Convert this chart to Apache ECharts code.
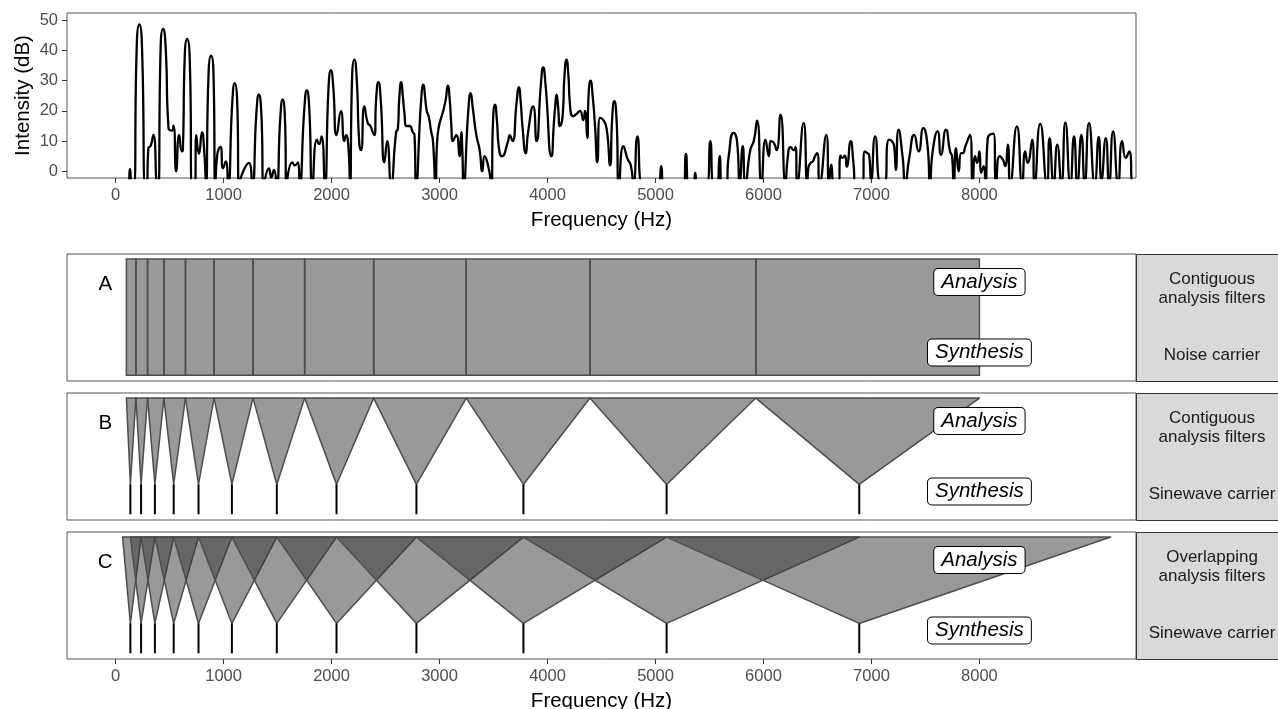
<!DOCTYPE html>
<html>
<head>
<meta charset="utf-8">
<script src="https://cdn.jsdelivr.net/npm/echarts@6/dist/echarts.min.js"></script>
<style>
  html, body { margin: 0; padding: 0; background: #ffffff; }
  #chart { width: 1278px; height: 709px; }
</style>
</head>
<body>
<div id="chart"></div>
<script>
// Spectrum of the input: [frequency (Hz), intensity (dB)]; values below the floor are cut by the panel.
const spectrum = [
  [0,-4],[118,-4],[133,0.8],[150,-4],[168,-4],[198,43.6],[220,48.6],[242,43.6],[275,-4],
  [288,-4],[304,7.7],[326,8.5],[350,12.1],[388,-4],[396,-4],[418,42.1],[440,47.1],[462,42.1],
  [490,14.3],[521,13.5],[536,15.1],[561,0],[589,12.1],[614,6.6],[623,7],[641,38.8],[663,43.8],[685,38.8],[710,-4],
  [735,-4],[747,12],[772,5.8],[800,12.9],[822,6],[837,-4],[862,33.3],[884,38.3],[906,33.3],[924,-4],
  [940,5],[971,8.1],[995,1],[1020,3.3],[1042,-4],[1083,24.2],[1104,29.2],[1125,24.2],[1144,-4],
  [1188,0.5],[1234,2.8],[1265,-4],[1306,20.4],[1327,25.4],[1348,20.4],[1374,-4],
  [1420,1],[1442,-2],[1467,0.5],[1491,-4],[1527,18.7],[1547,23.7],[1567,18.7],[1584,-4],
  [1637,3],[1659,2],[1690,3],[1705,-4],[1750,21.8],[1771,26.8],[1792,21.8],[1823,-4],
  [1864,10.5],[1885,9],[1907,11.6],[1938,-4],[1973,28.4],[1994,33.4],[2015,28.4],[2047,12],[2087,19.9],
  [2118,10],[2133,12],[2158,7],[2171,-4],[2191,32],[2211,37],[2231,32],[2257,9.2],[2273,7],[2304,21.5],
  [2335,16],[2360,15],[2381,13],[2397,12],[2414,24.5],[2434,29.5],[2454,24.5],[2490,3],[2515,10],[2552,-4],
  [2598,13],[2614,14],[2628,24.5],[2645,29.5],[2661,24.5],[2675,19.3],[2693,15],[2721,15],[2752,13],[2768,12],[2783,-4],
  [2830,23.7],[2851,28.7],[2868,24],[2882,20],[2901,18],[2923,13],[2938,10.5],[2963,-4],[2978,10],
  [3056,23.4],[3077,28.4],[3095,23.4],
  [3108,16],[3124,10],[3155,12],[3186,5],[3201,13],[3211,7],[3223,-4],[3268,20.9],[3288,25.9],[3308,20.9],
  [3341,12],[3372,7],[3396,0],[3418,5],[3449,2],[3480,-4],[3496,17.1],[3514,22.1],[3531,17.1],[3548,8.3],[3579,5],
  [3635,10],[3650,12],[3675,10],[3714,22.9],[3734,27.9],[3752,22.9],[3768,15],[3799,6],[3820,13],[3867,21.5],[3898,10],
  [3940,29.4],[3960,34.4],[3980,29.4],[4037,5],[4059,16],[4070,21],[4084,25.4],[4099,21],[4115,15],[4139,18],
  [4158,32],[4176,37],[4193,32],[4207,22.6],
  [4238,18.2],[4269,19],[4300,20],[4331,17],[4347,20],[4368,11],[4380,25],[4399,30],[4418,25],[4440,15],[4461,3],
  [4486,17.7],[4517,17],[4548,14],[4579,2],[4600,18.2],[4619,23.2],[4638,18.2],[4663,-4],[4703,8.3],[4743,4],[4771,2],
  [4796,-4],[4833,11.6],[4876,-4],[5028,-4],[5053,1.7],[5074,-4],[5260,-4],[5282,5.8],[5307,-4],
  [5353,-4],[5368,-0.5],[5384,-4],[5477,-4],[5508,10],[5539,-4],[5570,-4],[5594,5],[5616,-4],
  [5656,-4],[5678,5],[5724,12.7],[5755,10],[5780,-4],[5808,8.3],[5833,-4],[5879,7.2],[5910,10],
  [5941,16.8],[5981,-4],[6019,10.5],[6050,5],[6065,10],[6096,9.4],[6121,7],[6158,18.8],[6204,-4],
  [6226,5],[6251,8],[6282,7],[6297,8],[6313,-4],[6372,16],[6405,-4],[6415,1],[6437,2.8],[6458,3.3],
  [6477,5],[6498,6],[6520,-4],[6582,12.1],[6607,-4],[6628,2.2],[6653,-4],[6693,-4],[6715,5.2],
  [6731,4.5],[6755,5.2],[6771,1.5],[6808,10],[6833,2.8],[6854,-4],[6916,-4],[6938,6.6],[6963,6],
  [6978,5.5],[6997,-3],[7034,11.6],[7087,-4],[7118,-4],[7164,10.5],[7211,8.3],[7226,0.5],[7251,13.8],
  [7288,5],[7313,-4],[7350,4.4],[7396,12.1],[7437,6.6],[7480,14.3],[7520,8.3],[7542,-4],[7567,6.6],
  [7613,13.2],[7644,5.5],[7690,13.8],[7728,6.6],[7746,5],[7762,-4],[7783,7.7],[7808,0],[7830,6],
  [7845,6],[7870,8.3],[7913,12.1],[7938,-4],[7960,5],[7978,2.8],[8000,6.6],[8015,-0.5],[8040,1.7],
  [8056,-4],[8077,11],[8130,12.5],[8155,-4],[8186,5],[8217,3.9],[8238,1.7],[8263,8.8],[8285,-4],
  [8347,14.9],[8396,-4],[8424,6.6],[8446,2.8],[8489,10.5],[8511,-4],[8563,15.8],[8625,-4],
  [8650,11],[8687,-4],[8721,8.8],[8759,-4],[8796,16.2],[8842,-4],[8876,11.6],[8907,-4],
  [8944,12.1],[8975,-4],[9015,16],[9068,-4],[9105,11.4],[9130,-3],[9170,11],[9201,-4],
  [9238,13.2],[9285,-4],[9322,10],[9356,4.4],[9387,6.6],[9424,-4],[9450,-4]
];

const freqTicks = [0, 1000, 2000, 3000, 4000, 5000, 6000, 7000, 8000];
const dbTicks = [0, 10, 20, 30, 40, 50];

// Contiguous analysis band edges (Hz)
const bandEdges = [100, 188, 296, 447, 647, 912, 1273, 1751, 2390, 3247, 4393, 5929, 8000];
// Channel centre / sinewave carrier frequencies (Hz)
const carrierFreqs = [137, 236, 364, 538, 768, 1077, 1493, 2046, 2786, 3777, 5103, 6887];
// Outer limits of the overlapping filters: filter i runs from overlapEdges[i] to overlapEdges[i + 2]
const overlapEdges = [65, 137, 236, 364, 538, 768, 1077, 1493, 2046, 2786, 3777, 5103, 6887, 9215];

const panelLetters = ['A', 'B', 'C'];
const stripTitles = ['Contiguous\nanalysis filters', 'Contiguous\nanalysis filters', 'Overlapping\nanalysis filters'];
const carrierTitles = ['Noise carrier', 'Sinewave carrier', 'Sinewave carrier'];
const stageLabels = ['Analysis', 'Synthesis'];

// ---- layout ----
const FONT = 'Liberation Sans, Arial, Helvetica, sans-serif';
const LEFT = 67, PLOT_W = 1069;
const X_MIN = -450, X_MAX = 9450;
const STRIP_W = 152;
const PANEL_TOPS = [254, 393, 532];
const PANEL_H = 127;
const Y_TOP = 0.96, Y_APEX = 0.28, Y_BOT = 0.045;
const FILL = 'rgba(51,51,51,0.5)';
const EDGE = '#4d4d4d';

const chart = echarts.init(document.getElementById('chart'), null, { renderer: 'canvas' });

const plainNumber = v => String(v);

function freqAxis(gridIndex, withLabels, name) {
  return {
    type: 'value', gridIndex, min: X_MIN, max: X_MAX,
    axisLine: { show: false, onZero: false },
    splitLine: { show: false },
    axisTick: { show: withLabels, customValues: freqTicks, length: 5, lineStyle: { color: '#333', width: 1 } },
    axisLabel: { show: withLabels, customValues: freqTicks, formatter: plainNumber, margin: 9,
      color: '#4d4d4d', fontSize: 16.5, fontFamily: FONT },
    name: name || '', nameLocation: 'middle', nameGap: 32,
    nameTextStyle: { color: '#000', fontSize: 20.5, fontFamily: FONT }
  };
}

const gridBase = { left: LEFT, width: PLOT_W, show: true, borderColor: '#555', borderWidth: 1,
  containLabel: false, outerBoundsMode: 'none' };
const grids = [Object.assign({ top: 13, height: 165 }, gridBase)];
PANEL_TOPS.forEach(t => grids.push(Object.assign({ top: t, height: PANEL_H }, gridBase)));

const xAxes = [freqAxis(0, true, 'Frequency (Hz)'), freqAxis(1, false), freqAxis(2, false), freqAxis(3, true, 'Frequency (Hz)')];
const yAxes = [{
  type: 'value', gridIndex: 0, min: -2.2, max: 52.4,
  axisLine: { show: false, onZero: false },
  splitLine: { show: false },
  axisTick: { show: true, customValues: dbTicks, length: 5, lineStyle: { color: '#333', width: 1 } },
  axisLabel: { customValues: dbTicks, formatter: plainNumber, margin: 9, color: '#4d4d4d', fontSize: 16.5, fontFamily: FONT },
  name: 'Intensity (dB)', nameLocation: 'middle', nameGap: 33, nameMoveOverlap: false,
  nameTextStyle: { color: '#000', fontSize: 20.5, fontFamily: FONT }
}];
for (let g = 1; g <= 3; g++) {
  yAxes.push({ type: 'value', gridIndex: g, min: 0, max: 1, show: false, axisLine: { onZero: false } });
}

const series = [];

// intensity spectrum
series.push({
  type: 'line', xAxisIndex: 0, yAxisIndex: 0, data: spectrum,
  showSymbol: false, smooth: 0.6, clip: true, silent: true,
  lineStyle: { color: '#000', width: 2.3 }
});

// Panel A: contiguous rectangular bands
const rectBands = bandEdges.slice(0, -1).map((lo, i) => [lo, bandEdges[i + 1]]);
series.push({
  type: 'custom', xAxisIndex: 1, yAxisIndex: 1, data: rectBands, clip: true, silent: true,
  renderItem(params, api) {
    const p0 = api.coord([api.value(0), Y_TOP]);
    const p1 = api.coord([api.value(1), Y_BOT]);
    return { type: 'rect', shape: { x: p0[0], y: p0[1], width: p1[0] - p0[0], height: p1[1] - p0[1] },
      style: { fill: FILL, stroke: EDGE, lineWidth: 1.5 } };
  }
});

// triangular filters: [low, centre, high]
function triangleSeries(gridIndex, tris) {
  return {
    type: 'custom', xAxisIndex: gridIndex, yAxisIndex: gridIndex, data: tris, clip: true, silent: true,
    renderItem(params, api) {
      const a = api.coord([api.value(0), Y_TOP]);
      const b = api.coord([api.value(2), Y_TOP]);
      const c = api.coord([api.value(1), Y_APEX]);
      return { type: 'polygon', shape: { points: [a, b, c] },
        style: { fill: FILL, stroke: EDGE, lineWidth: 1.5, lineJoin: 'round' } };
    }
  };
}
function carrierSeries(gridIndex) {
  return {
    type: 'custom', xAxisIndex: gridIndex, yAxisIndex: gridIndex, data: carrierFreqs.map(f => [f]), silent: true,
    renderItem(params, api) {
      const a = api.coord([api.value(0), Y_APEX]);
      const b = api.coord([api.value(0), Y_BOT]);
      return { type: 'line', shape: { x1: a[0], y1: a[1], x2: b[0], y2: b[1] },
        style: { stroke: '#000', lineWidth: 2 } };
    }
  };
}

const contiguousTris = carrierFreqs.map((c, i) => [bandEdges[i], c, bandEdges[i + 1]]);
const overlapTris = carrierFreqs.map((c, i) => [overlapEdges[i], c, overlapEdges[i + 2]]);
series.push(triangleSeries(2, contiguousTris), carrierSeries(2));
series.push(triangleSeries(3, overlapTris), carrierSeries(3));

// panel letters and Analysis / Synthesis tags
for (let g = 1; g <= 3; g++) {
  series.push({
    type: 'custom', xAxisIndex: g, yAxisIndex: g, silent: true, clip: false,
    data: [[-96, 0.76, panelLetters[g - 1], 0], [8000, 0.78, stageLabels[0], 1], [8000, 0.225, stageLabels[1], 1]],
    renderItem(params, api) {
      const p = api.coord([api.value(0), api.value(1)]);
      const txt = api.value(2);
      const isTag = api.value(3) === 1;
      const style = { text: txt, x: p[0], y: p[1], align: 'center', verticalAlign: 'middle',
        fontFamily: FONT, fontSize: 20.5, fill: '#000' };
      if (isTag) {
        Object.assign(style, { fontStyle: 'italic', backgroundColor: '#fff', borderColor: '#000',
          borderWidth: 1, borderRadius: 4, padding: [3, 7, 3, 7] });
      }
      return { type: 'text', style };
    }
  });
}

// facet strips on the right
const graphics = [];
PANEL_TOPS.forEach((t, i) => {
  graphics.push({
    type: 'rect', left: LEFT + PLOT_W, top: t, silent: true,
    shape: { x: 0, y: 0, width: STRIP_W, height: PANEL_H },
    style: { fill: '#d9d9d9', stroke: '#333', lineWidth: 1 }
  });
  graphics.push({
    type: 'text', silent: true,
    x: LEFT + PLOT_W + STRIP_W / 2, y: t + 35,
    style: { text: stripTitles[i], align: 'center', verticalAlign: 'middle', fontFamily: FONT,
      fontSize: 17, lineHeight: 19, fill: '#1a1a1a' }
  });
  graphics.push({
    type: 'text', silent: true,
    x: LEFT + PLOT_W + STRIP_W / 2, y: t + 101,
    style: { text: carrierTitles[i], align: 'center', verticalAlign: 'middle', fontFamily: FONT,
      fontSize: 17, fill: '#1a1a1a' }
  });
});

chart.setOption({
  animation: false,
  backgroundColor: '#ffffff',
  textStyle: { fontFamily: FONT },
  grid: grids,
  xAxis: xAxes,
  yAxis: yAxes,
  series,
  graphic: graphics
});
</script>
</body>
</html>
